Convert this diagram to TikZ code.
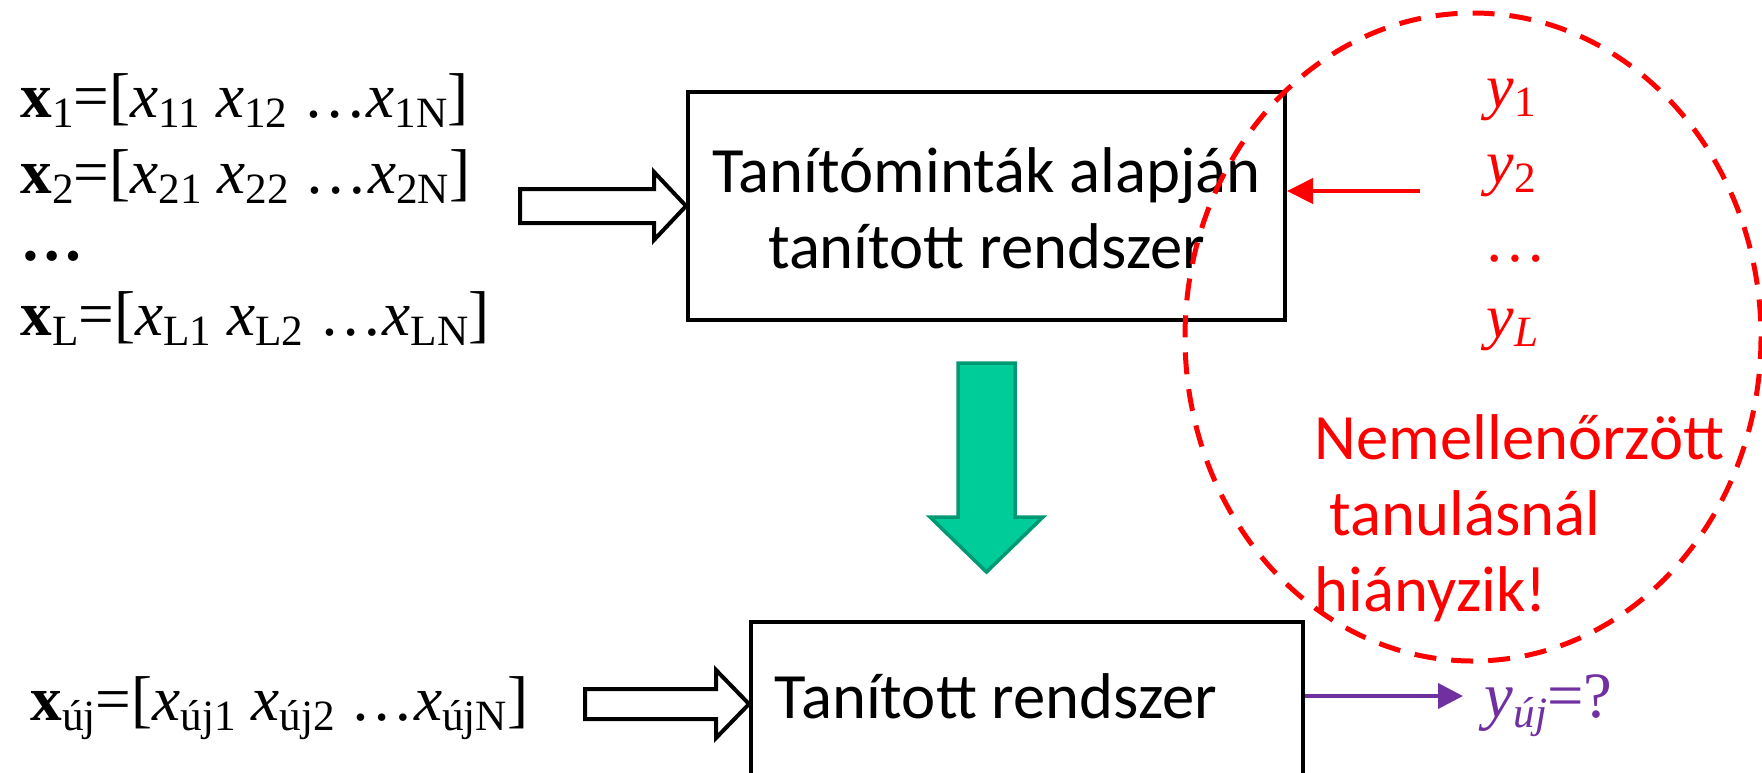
\documentclass[tikz,border=0pt]{standalone}
\usepackage{fontspec}
\setmainfont{Carlito}
\newfontfamily\tnr{Liberation Serif}
\usetikzlibrary{arrows.meta}

\definecolor{pptred}{HTML}{FF0000}
\definecolor{pptpurple}{HTML}{7030A0}
\definecolor{arrowgreen}{HTML}{00CC99}
\definecolor{arrowgreenline}{HTML}{009973}

% lowered, smaller index text
\newcommand\sbs[1]{\raisebox{-0.16em}{\fontsize{12.3}{12.3}\selectfont #1}}
\newcommand\xv[1]{\textit{x}\sbs{#1}}

\tikzset{
  box/.style={draw, line width=0.4mm, fill=white, inner sep=0pt},
  hollowarrow/.style={draw, fill=white, line width=0.4mm, line join=miter},
  greenarrow/.style={fill=arrowgreen, draw=arrowgreenline, line width=0.35mm, line join=miter},
  cal/.style={font=\fontsize{18.4}{21.6}\selectfont, inner sep=0pt},
  tms/.style={font=\tnr\fontsize{18.0}{21}\selectfont, inner sep=0pt},
  tmsy/.style={font=\tnr\fontsize{17.6}{21}\selectfont, inner sep=0pt},
  tmsp/.style={font=\tnr\fontsize{18.4}{21}\selectfont, inner sep=0pt},
  ring/.style={draw=pptred, line width=0.5mm, dash pattern=on 2.2mm off 1.5mm},
  redarrow/.style={draw=pptred, line width=0.4mm, -{Triangle[length=2.6mm,width=2.5mm]}},
  purplearrow/.style={draw=pptpurple, line width=0.4mm, -{Triangle[length=2.5mm,width=2.5mm]}},
}

\begin{document}
\begin{tikzpicture}[x=0.1mm, y=-0.1mm]
\useasboundingbox (0,0) rectangle (1762,772);
\clip (0,0) rectangle (1762,772);

% training samples
\node[tms, anchor=base west] (x1) at (20,117) {\textbf{x}\sbs{1}=[\xv{11} \xv{12} …\xv{1N}]};
\node[tms, anchor=base west] (x2) at (20,193) {\textbf{x}\sbs{2}=[\xv{21} \xv{22} …\xv{2N}]};
\node[tms, anchor=base west] (xdots) at (20,260) {\textbf{…}};
\node[tms, anchor=base west] (xL) at (20,335) {\textbf{x}\sbs{L}=[\xv{L1} \xv{L2} …\xv{LN}]};

% new sample
\node[tms, anchor=base west] (xnew) at (30,720) {\textbf{x}\sbs{új}=[\xv{új1} \xv{új2} …\xv{újN}]};

% systems
\node[box, minimum width=59.7mm, minimum height=22.8mm] (top) at (986.5,206) {};
\node[cal, align=center, anchor=base] (toptext) at (986.5,268) {Tanítóminták alapján\\tanított rendszer};

\node[box, minimum width=55.2mm, minimum height=24mm] (bot) at (1027,742) {};
\node[cal, anchor=base west] (bottext) at (774,718) {Tanított rendszer};

% hollow input arrows
\draw[hollowarrow] (top.west) -- ++(-32,-34) -- ++(0,17) -- ++(-134,0) -- ++(0,34)
  -- ++(134,0) -- ++(0,17) -- cycle;
\coordinate (btip) at ([yshift=-8.4mm]bot.north west);
\draw[hollowarrow] (btip) -- ++(-33,-34) -- ++(0,19) -- ++(-131,0) -- ++(0,30)
  -- ++(131,0) -- ++(0,19) -- cycle;

% training -> trained
\draw[greenarrow] (958,363) -- (1015,363) -- (1015,517) -- (1043,517) -- (986.5,572)
  -- (930,517) -- (958,517) -- cycle;

% desired outputs
\node[tmsy, anchor=base west, text=pptred] (y1) at (1486,107) {\textit{y}\sbs{1}};
\node[tmsy, anchor=base west, text=pptred] (y2) at (1486,183) {\textit{y}\sbs{2}};
\node[tmsy, anchor=base west, text=pptred] (ydots) at (1484,261) {…};
\node[tmsy, anchor=base west, text=pptred] (yL) at (1486,337) {\textit{y}\sbs{\textit{L}}};

\coordinate (rstart) at (1420,191);
\draw[redarrow] (rstart) -- (rstart -| top.east);

% unsupervised remark
\node[cal, anchor=base west, align=left, text=pptred] (note) at (1314,611)
  {Nemellenőrzött\\\hspace{0.23em}tanulásnál\\hiányzik!};

\draw[ring] (1473,337) ellipse [x radius=288, y radius=324];

% output
\node[tmsp, anchor=base west, text=pptpurple] (ynew) at (1484,717) {\textit{y}\sbs{\textit{új}}=?};
\coordinate (pend) at (1463,696);
\draw[purplearrow] (pend -| bot.east) -- (pend);
\end{tikzpicture}
\end{document}
